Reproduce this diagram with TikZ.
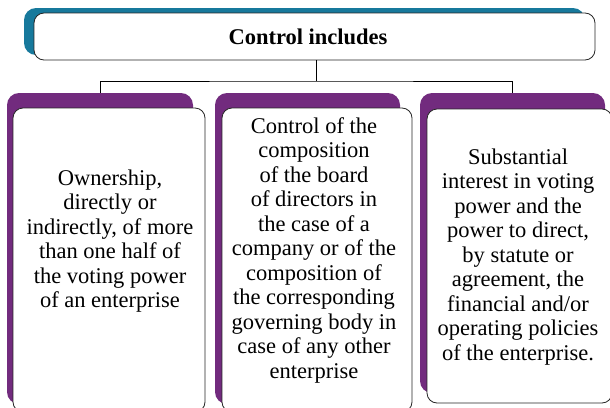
\documentclass[tikz,border=0pt]{standalone}
\usepackage{fontspec}
\setmainfont{Liberation Serif}
\definecolor{tealc}{HTML}{17799C}
\definecolor{purplec}{HTML}{722B7E}
\begin{document}
\begin{tikzpicture}[x=1pt,y=1pt,
  back/.style={rectangle,rounded corners=12pt,inner sep=0pt,draw=none},
  front/.style={rectangle,rounded corners=10pt,inner sep=0pt,fill=white,draw=black!85,line width=0.8pt},
  txt/.style={align=center,inner sep=0pt,font=\fontsize{22.5}{24.5}\selectfont},
  conn/.style={draw=black,line width=0.8pt}]
\useasboundingbox (0,0) rectangle (610,-407);
% top box
\node[back,fill=tealc,minimum width=561pt,minimum height=47pt] (tb) at (304.5,-31.5) {};
\node[front,minimum width=561pt,minimum height=47pt] (top) at (314.5,-36.5) {};
\node[inner sep=0pt,font=\fontsize{22.5}{24}\selectfont\bfseries] (title) at (308,-37) {Control includes};
% purple backs
\node[back,fill=purplec,minimum width=186pt,minimum height=311pt] (p1) at (100,-248.5) {};
\node[back,fill=purplec,minimum width=185pt,minimum height=311pt] (p2) at (307.5,-248.5) {};
\node[back,fill=purplec,minimum width=185pt,minimum height=300pt] (p3) at (512.5,-243) {};
% white fronts
\node[front,minimum width=192pt,minimum height=304pt] (w1) at (109,-260) {};
\node[front,minimum width=190pt,minimum height=304pt] (w2) at (317,-260) {};
\node[front,minimum width=185pt,minimum height=294pt] (w3) at (519.5,-256) {};
% texts
\node[txt] (t1) at (110,-241) {Ownership,\\directly or\\indirectly, of more\\than one half of\\the voting power\\of an enterprise};
\node[txt] (t2) at (314,-250) {Control of the\\composition\\of the board\\of directors in\\the case of a\\company or of the\\composition of\\the corresponding\\governing body in\\case of any other\\enterprise};
\node[txt] (t3) at (518,-257) {Substantial\\interest in voting\\power and the\\power to direct,\\by statute or\\agreement, the\\financial and/or\\operating policies\\of the enterprise.};
% connectors
\coordinate (bus) at (316,-81);
\draw[conn] (top.south -| bus) -- (bus);
\draw[conn] (p1.north) |- (bus) -| (p3.north);
\end{tikzpicture}
\end{document}
